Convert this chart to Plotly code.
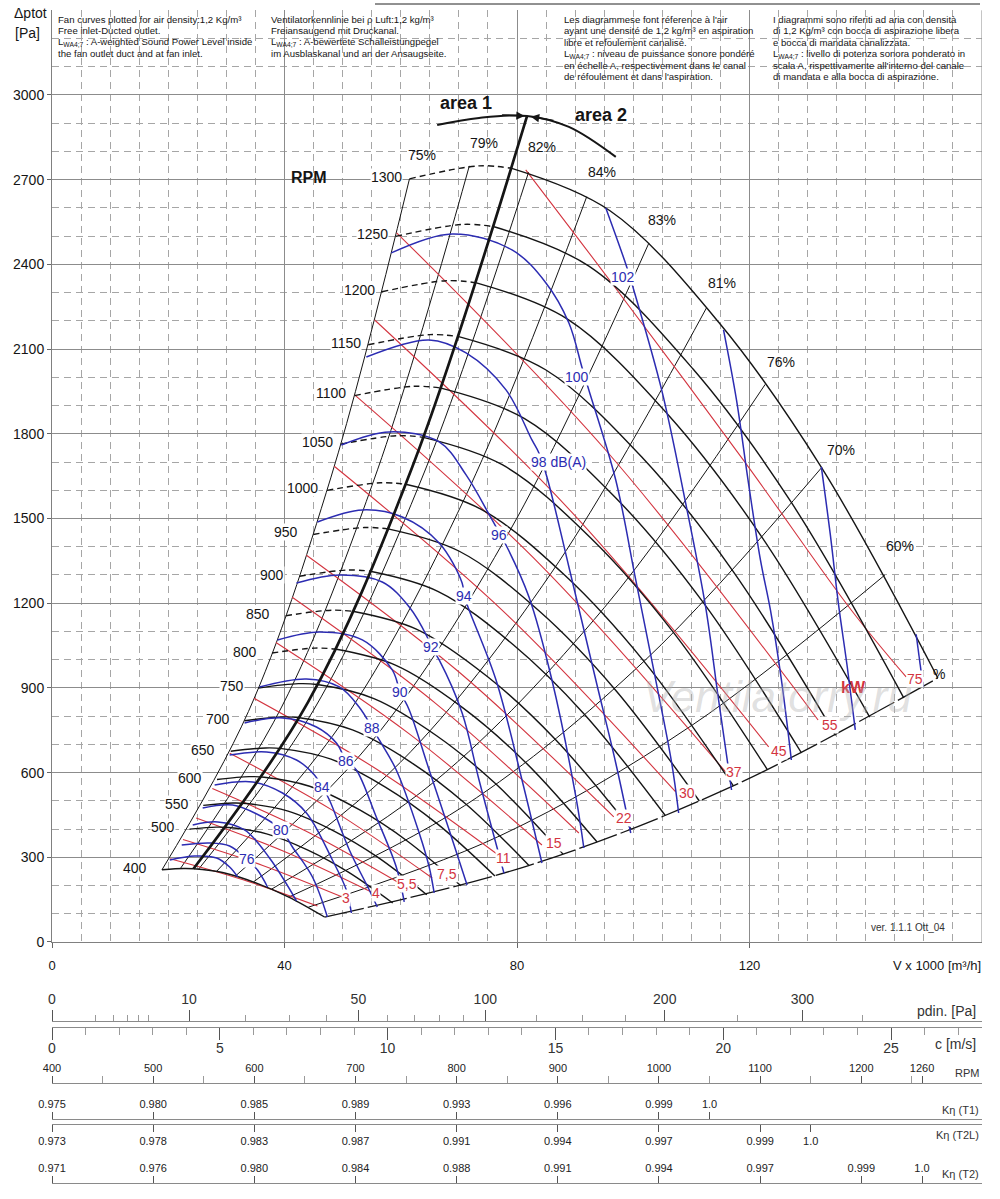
import math
import plotly.graph_objects as go

FONT = "Liberation Sans, Arial, Helvetica, sans-serif"
NARROW = "Liberation Sans Narrow, Arial Narrow, Liberation Sans, Arial, sans-serif"

# ---------------- fan speed curves (V x1000 m3/h , dp Pa) ----------------
RPM_VALUES = [400, 500, 550, 600, 650, 700, 750, 800, 850, 900, 950, 1000,
              1050, 1100, 1150, 1200, 1250, 1300]
RPM_CURVE_V = [
    [18.92, 22.62, 24.34, 29.54, 35.29, 40.74, 46.89],
    [23.65, 28.27, 30.42, 36.92, 44.12, 50.92, 58.62],
    [26.02, 31.10, 33.47, 40.62, 48.53, 56.02, 64.48],
    [28.39, 33.92, 36.51, 44.31, 52.94, 61.11, 70.34],
    [30.75, 36.75, 39.55, 48.00, 57.35, 66.20, 76.20],
    [33.12, 39.58, 42.59, 51.69, 61.76, 71.29, 82.06],
    [35.48, 42.40, 45.63, 55.38, 66.17, 76.38, 87.92],
    [37.85, 45.23, 48.68, 59.08, 70.58, 81.48, 93.78],
    [40.21, 48.06, 51.72, 62.77, 75.00, 86.57, 99.65],
    [42.58, 50.89, 54.76, 66.46, 79.41, 91.66, 105.51],
    [44.94, 53.71, 57.80, 70.15, 83.82, 96.75, 111.37],
    [47.31, 56.54, 60.85, 73.85, 88.23, 101.85, 117.23],
    [49.67, 59.37, 63.89, 77.54, 92.64, 106.94, 123.09],
    [52.04, 62.19, 66.93, 81.23, 97.05, 112.03, 128.95],
    [54.40, 65.02, 69.97, 84.92, 101.47, 117.12, 134.82],
    [56.77, 67.85, 73.02, 88.62, 105.88, 122.22, 140.68],
    [59.14, 70.67, 76.06, 92.31, 110.29, 127.31, 146.54],
    [61.50, 73.50, 79.10, 96.00, 114.70, 132.40, 152.40],
]
RPM_CURVE_P = [
    [255.9, 260.3, 259.4, 245.2, 207.8, 159.1, 88.5],
    [399.9, 406.7, 405.3, 383.1, 324.7, 248.5, 138.3],
    [483.8, 492.1, 490.4, 463.6, 392.9, 300.7, 167.4],
    [575.8, 585.6, 583.7, 551.7, 467.6, 357.9, 199.2],
    [675.8, 687.3, 685.0, 647.5, 548.8, 420.0, 233.8],
    [783.7, 797.1, 794.4, 751.0, 636.4, 487.1, 271.1],
    [899.7, 915.0, 912.0, 862.1, 730.6, 559.2, 311.2],
    [1023.6, 1041.0, 1037.6, 980.8, 831.2, 636.2, 354.1],
    [1155.6, 1175.2, 1171.4, 1107.3, 938.4, 718.2, 399.7],
    [1295.5, 1317.6, 1313.3, 1241.4, 1052.0, 805.2, 448.1],
    [1443.5, 1468.0, 1463.2, 1383.1, 1172.2, 897.2, 499.3],
    [1599.4, 1626.6, 1621.3, 1532.5, 1298.8, 994.1, 553.3],
    [1763.3, 1793.4, 1787.5, 1689.6, 1431.9, 1096.0, 610.0],
    [1935.3, 1968.2, 1961.8, 1854.4, 1571.6, 1202.8, 669.4],
    [2115.2, 2151.2, 2144.2, 2026.8, 1717.7, 1314.7, 731.7],
    [2303.1, 2342.3, 2334.7, 2206.9, 1870.3, 1431.5, 796.7],
    [2499.1, 2541.6, 2533.3, 2394.6, 2029.4, 1553.3, 864.5],
    [2703.0, 2749.0, 2740.0, 2590.0, 2195.0, 1680.0, 935.0],
]
RPM_LABEL_V = [14.25, 19.06, 21.46, 23.69, 25.92, 28.50, 30.90, 33.13, 35.36,
               37.77, 40.34, 43.09, 45.67, 48.07, 50.64, 52.88, 55.11, 57.51]
RPM_LABEL_P = [262.1, 407.4, 488.8, 580.9, 680.1, 789.9, 906.8, 1027.3, 1161.9,
               1300.0, 1452.4, 1608.2, 1771.2, 1944.7, 2121.9, 2309.6, 2508.0, 2709.9]
DASHED_FROM_RPM = 800

# ---------------- efficiency lines ----------------
EFF_LABELS = ["75%", "79%", "82%", "84%", "83%", "81%", "76%", "70%", "60%"]
EFF_LINE_V = [
    [18.92, 33.80, 48.00, 61.50],
    [22.09, 39.50, 56.00, 71.80],
    [25.23, 45.00, 64.00, 82.00],
    [28.31, 50.00, 71.00, 92.00],
    [31.60, 55.00, 79.00, 102.70],
    [34.65, 60.00, 86.00, 112.60],
    [37.75, 66.00, 95.00, 122.70],
    [40.74, 71.00, 102.00, 132.40],
    [44.09, 77.00, 110.00, 143.30],
]
EFF_LINE_P = [
    [255.8, 816.5, 1646.6, 2703.0],
    [260.2, 832.0, 1672.3, 2749.0],
    [258.2, 821.3, 1661.2, 2727.0],
    [250.0, 779.8, 1572.3, 2640.0],
    [234.4, 710.1, 1465.1, 2476.0],
    [212.7, 637.7, 1310.2, 2246.0],
    [186.9, 571.4, 1183.9, 1975.0],
    [159.1, 483.1, 997.1, 1680.0],
    [123.1, 375.4, 766.1, 1300.0],
]
EFF_LABEL_V = [63.69, 74.33, 84.29, 94.59, 104.89, 115.19, 125.49, 135.79, 145.92]
EFF_LABEL_P = [2787.8, 2830.3, 2816.2, 2727.6, 2557.6, 2334.4, 2054.5, 1742.8, 1402.8]

BOUNDARY_V = [46.89, 82.00, 117.00, 152.40]
BOUNDARY_P = [88.5, 270.7, 551.1, 935.0]
BOUNDARY_LABEL = "%"
BOUNDARY_LABEL_V, BOUNDARY_LABEL_P = 152.6, 950.0

AREA_LINE_V = [24.34, 44.00, 62.00, 81.70]
AREA_LINE_P = [259.4, 847.8, 1683.4, 2923.1]
AREA_ARC_V = [66.27, 73.48, 81.72, 88.93, 97.00]
AREA_ARC_P = [2894.1, 2918.9, 2926.0, 2887.0, 2780.7]

# ---------------- sound power lines dB(A) ----------------
DB_LEVELS = [74, 76, 78, 80, 82, 84, 86, 88, 90, 92, 94, 96, 98, 100, 102, 104, 106, 108]
DB_CURVE_V = [
    [20.26, 24.55, 28.33, 30.56, 31.93],
    [22.32, 27.12, 30.56, 33.48, 35.36, 37.08],
    [24.21, 28.50, 33.13, 37.42, 42.06],
    [25.92, 31.07, 36.22, 39.48, 41.37, 44.81, 47.38],
    [27.98, 34.51, 39.66, 43.78, 48.24, 50.64, 51.50],
    [30.56, 36.91, 42.06, 45.15, 46.52, 47.73, 51.16, 54.59, 55.96],
    [33.13, 39.66, 45.49, 48.93, 50.64, 52.36, 55.79, 59.23, 60.60],
    [35.71, 43.78, 49.44, 52.83, 55.11, 56.31, 59.23, 63.17, 64.89, 65.75],
    [38.80, 46.01, 53.39, 58.54, 59.91, 61.46, 64.89, 68.33, 71.41],
    [42.06, 49.44, 56.82, 61.46, 64.55, 65.24, 66.61, 70.56, 73.47, 77.77],
    [45.66, 53.39, 60.26, 66.61, 70.56, 70.90, 71.76, 76.39, 80.86, 84.29],
    [49.78, 58.02, 66.61, 71.24, 75.53, 78.28, 82.06, 86.01, 90.13, 91.50],
    [54.08, 64.89, 71.24, 78.11, 82.57, 83.77, 85.15, 88.93, 93.56, 96.99, 99.57],
    [58.37, 68.84, 79.14, 84.98, 88.93, 91.16, 92.36, 96.99, 100.43, 103.86, 106.61, 107.81],
    [95.28, 98.88, 100.09, 104.89, 109.01, 112.45, 114.68, 116.91],
    [115.53, 117.76, 119.82, 121.88, 123.60, 125.49, 127.20],
    [132.36, 133.91, 135.28, 136.82, 138.20],
    [148.67, 149.87],
]
DB_CURVE_P = [
    [290.5, 304.6, 297.6, 265.7, 231.0],
    [343.6, 350.7, 340.1, 294.0, 255.0, 194.8],
    [414.4, 425.1, 396.7, 297.6, 146.0],
    [474.7, 485.3, 442.8, 396.7, 336.5, 230.2, 88.6],
    [556.1, 566.8, 527.8, 457.0, 290.5, 184.2, 102.7],
    [662.4, 673.0, 644.7, 591.6, 549.1, 503.0, 325.9, 184.2, 124.0],
    [775.8, 793.5, 761.6, 704.9, 641.2, 609.3, 442.8, 265.7, 141.7],
    [903.3, 931.6, 903.3, 832.4, 758.1, 715.5, 609.3, 386.1, 265.7, 173.6],
    [1069.8, 1098.1, 1069.8, 963.5, 885.6, 821.8, 609.3, 396.7, 201.9],
    [1271.7, 1300.0, 1275.2, 1186.7, 1080.4, 1045.0, 998.9, 811.2, 573.9, 243.0],
    [1487.8, 1530.3, 1505.5, 1413.4, 1271.7, 1225.6, 1176.0, 928.1, 573.9, 279.8],
    [1760.5, 1806.6, 1771.2, 1654.3, 1501.9, 1399.2, 1222.1, 928.1, 513.6, 333.0],
    [2072.2, 2132.5, 2086.4, 1955.4, 1778.2, 1732.2, 1647.2, 1328.4, 928.1, 634.1, 386.1],
    [2440.6, 2508.0, 2451.3, 2334.4, 2192.7, 2036.8, 1955.4, 1636.5, 1282.3, 928.1, 634.1, 457.0],
    [2600.0, 2391.1, 2309.6, 1955.4, 1555.1, 1186.7, 857.2, 538.4],
    [2167.9, 1919.9, 1625.9, 1353.2, 1176.0, 928.1, 644.7],
    [1682.6, 1441.7, 1200.8, 974.1, 751.0],
    [1090.0, 904.0],
]
DB_LABELS = ["76", "80", "84", "86", "88", "90", "92", "94", "96", "98 dB(A)", "100", "102"]
DB_LABEL_V = [33.48, 39.48, 46.52, 50.64, 55.11, 59.91, 65.24, 70.90, 76.91, 87.21, 90.30, 98.20]
DB_LABEL_P = [294.0, 396.7, 549.1, 641.2, 758.1, 885.6, 1045.0, 1225.6, 1441.7, 1700.3, 2001.4, 2355.7]

# ---------------- motor power lines kW ----------------
KW_VALUES = [75, 55, 45, 37, 30, 22, 18.5, 15, 11, 7.5, 5.5, 4, 3, 2.2]
KW_CURVE_V = [
    [81.50, 96.30, 119.30, 137.50, 146.95],
    [59.29, 95.55, 131.80],
    [55.52, 89.41, 123.30],
    [52.07, 83.99, 115.90],
    [48.56, 77.93, 107.30],
    [43.78, 70.22, 96.65],
    [41.33, 65.99, 90.64],
    [38.53, 61.41, 84.29],
    [34.75, 56.00, 77.25],
    [30.58, 48.00, 65.41],
    [27.58, 43.66, 59.74],
    [24.80, 39.87, 54.94],
    [22.53, 36.25, 49.96],
    [20.32, 33.00, 45.67],
]
KW_CURVE_P = [
    [2735.0, 2334.0, 1697.0, 1176.0, 938.7],
    [2512.0, 1735.5, 786.4],
    [2203.0, 1522.5, 690.8],
    [1938.0, 1336.9, 602.2],
    [1685.0, 1165.9, 531.4],
    [1370.0, 952.8, 442.8],
    [1221.0, 845.3, 386.1],
    [1061.0, 738.2, 343.6],
    [863.0, 610.1, 301.1],
    [668.5, 469.7, 226.7],
    [543.5, 393.0, 209.0],
    [439.5, 321.4, 177.1],
    [362.8, 271.3, 159.4],
    [295.0, 219.6, 127.5],
]
KW_LABELS = ["75", "55", "45", "37", "30", "22", "15", "11", "7,5", "5,5", "4", "3"]
KW_LABEL_V = [148.5, 133.9, 125.0, 117.3, 109.2, 98.4, 86.4, 77.6, 68.0, 61.1, 55.8, 50.6]
KW_LABEL_P = [931.0, 768.7, 676.6, 602.2, 527.8, 439.3, 350.7, 297.6, 240.9, 205.5, 173.6, 155.9]

# ---------------- auxiliary scales ----------------
AIR_DENSITY = 1.2
C_MAX = 27.71            # outlet velocity at the right edge of the V axis
PDIN_MAJOR = [0, 10, 50, 100, 200, 300]
PDIN_MINOR = [1, 2, 3, 4, 5, 20, 30, 40, 60, 70, 80, 90, 125, 150, 175, 250, 350]
C_MAJOR = [0, 5, 10, 15, 20, 25]
C_MINOR = [1, 2, 3, 4, 6, 7, 8, 9, 11, 12, 13, 14, 16, 17, 18, 19, 21, 22, 23, 24, 26, 27]
RPM_RANGE = [400, 1319.3]
RPM_SCALE = [400, 500, 600, 700, 800, 900, 1000, 1100, 1200, 1260]
RPM_SCALE_MINOR = [450, 550, 650, 750, 850, 950, 1050, 1150, 1250]
KT1_RPM = [400, 500, 600, 700, 800, 900, 1000, 1050]
KT1_TEXT = ["0.975", "0.980", "0.985", "0.989", "0.993", "0.996", "0.999", "1.0"]
KT2L_RPM = [400, 500, 600, 700, 800, 900, 1000, 1100, 1150]
KT2L_TEXT = ["0.973", "0.978", "0.983", "0.987", "0.991", "0.994", "0.997", "0.999", "1.0"]
KT2_RPM = [400, 500, 600, 700, 800, 900, 1000, 1100, 1200, 1260]
KT2_TEXT = ["0.971", "0.976", "0.980", "0.984", "0.988", "0.991", "0.994", "0.997", "0.999", "1.0"]

HEADER_EN = ["Fan curves plotted for air density:1,2 Kg/m³", "Free inlet-Ducted outlet.",
             "L<sub>WA4;7</sub> : A-weighted Sound Power Level inside",
             "the fan outlet duct and at fan inlet."]
HEADER_DE = ["Ventilatorkennlinie bei ρ Luft:1,2 kg/m³", "Freiansaugend mit Druckanal.",
             "L<sub>WA4;7</sub> : A-bewertete Schalleistungpegel",
             "im Ausblaskanal und an der Ansaugseite."]
HEADER_FR = ["Les diagrammese font réference à l'air",
             "ayant une densité de 1,2 kg/m³ en aspiration", "libre et refoulement canalisé.",
             "L<sub>WA4;7</sub> : niveau de puissance sonore pondéré",
             "en échelle A, respectivement dans le canal", "de réfoulement et dans l'aspiration."]
HEADER_IT = ["I diagrammi sono riferiti ad aria con densità",
             "di 1,2 Kg/m³ con bocca di aspirazione libera", "e bocca di mandata canalizzata.",
             "L<sub>WA4;7</sub> : livello di potenza sonora ponderato in",
             "scala A, rispettivamente all'interno del canale",
             "di mandata e alla bocca di aspirazione."]

# ---------------- styling ----------------
W, H = 1000, 1199
X_DOM = [0.052, 0.982]
Y_DOM = [0.21435, 0.99141]
BLACK = "#151515"
RED = "#d3343f"
BLUE = "#2c2cb2"

fig = go.Figure()


def line(v, p, color, width, dash="solid"):
    fig.add_trace(go.Scatter(x=v, y=p, mode="lines", hoverinfo="skip", showlegend=False,
                             line=dict(color=color, width=width, dash=dash,
                                       shape="spline", smoothing=1.0)))


for v, p in zip(EFF_LINE_V, EFF_LINE_P):
    line(v, p, BLACK, 1.0)
line(BOUNDARY_V, BOUNDARY_P, BLACK, 1.3, "40px,4px")

for v, p in zip(KW_CURVE_V, KW_CURVE_P):
    line(v, p, RED, 1.1)

for rpm, v, p in zip(RPM_VALUES, RPM_CURVE_V, RPM_CURVE_P):
    if rpm >= DASHED_FROM_RPM:
        line(v[:3], p[:3], BLACK, 1.4, "6px,4px")
        line(v[2:], p[2:], BLACK, 1.4)
    else:
        line(v, p, BLACK, 1.4)

for v, p in zip(DB_CURVE_V, DB_CURVE_P):
    line(v, p, BLUE, 1.5)

line(AREA_LINE_V, AREA_LINE_P, BLACK, 2.7)
line(AREA_ARC_V, AREA_ARC_P, BLACK, 2.0)

ann = []


def text(x, y, s, color=BLACK, size=14, bg="white", xref="x", yref="y", **kw):
    d = dict(x=x, y=y, xref=xref, yref=yref, text=s, showarrow=False,
             xanchor="center", yanchor="middle",
             font=dict(family=FONT, size=size, color=color), borderpad=0)
    if bg:
        d["bgcolor"] = bg
    d.update(kw)
    ann.append(d)


for lab, v, p in zip(RPM_VALUES, RPM_LABEL_V, RPM_LABEL_P):
    text(v, p, str(lab))
for lab, v, p in zip(EFF_LABELS, EFF_LABEL_V, EFF_LABEL_P):
    text(v, p, lab, bg=None)
text(BOUNDARY_LABEL_V, BOUNDARY_LABEL_P, BOUNDARY_LABEL, bg=None)
for lab, v, p in zip(DB_LABELS, DB_LABEL_V, DB_LABEL_P):
    text(v, p, lab, color=BLUE)
for lab, v, p in zip(KW_LABELS, KW_LABEL_V, KW_LABEL_P):
    text(v, p, lab, color=RED)

text(44.29, 2706.3, "<b>RPM</b>", size=16, bg=None)
text(71.24, 2972.0, "<b>area 1</b>", size=18, bg=None)
text(94.42, 2929.5, "<b>area 2</b>", size=18, bg=None)
text(137.85, 899.8, "<b>kW</b>", color=RED, size=16, bg=None)
text(147.3, 49.6, "ver. 1.1.1 Ott_04", color="#333", size=10, bg=None)
text(124.9, 867.9, "<i>Ventilatorry.ru</i>", color="rgba(175,175,175,0.40)", size=44, bg=None)

# arrows at the top of the area boundary
ann.append(dict(x=81.3, y=2926, xref="x", yref="y", ax=-24, ay=-1, text="", showarrow=True,
                arrowhead=2, arrowsize=1.1, arrowwidth=1.5, arrowcolor=BLACK))
ann.append(dict(x=82.4, y=2923, xref="x", yref="y", ax=24, ay=4, text="", showarrow=True,
                arrowhead=2, arrowsize=1.1, arrowwidth=1.5, arrowcolor=BLACK))

# header notes, one annotation per line for exact line spacing
for xpx, block in [(57, HEADER_EN), (270, HEADER_DE), (563, HEADER_FR), (772, HEADER_IT)]:
    for i, row in enumerate(block):
        text(xpx / W, 1 - (19.5 + 11.4 * i) / H, row, size=9.6, bg=None, xref="paper",
             yref="paper", xanchor="left", yanchor="middle", align="left")

# axis titles
text(30 / W, 1 - 13 / H, "Δptot", size=14, bg=None, xref="paper", yref="paper")
text(27 / W, 1 - 33 / H, "[Pa]", size=14, bg=None, xref="paper", yref="paper")
text(982 / W, 1 - 965 / H, "V x 1000 [m³/h]", size=13, bg=None, xref="paper", yref="paper",
     xanchor="right")
text(977 / W, 1 - 1011 / H, "pdin. [Pa]", bg=None, xref="paper", yref="paper",
     xanchor="right", font=dict(family=FONT, size=14, color="#333"))
text(977 / W, 1 - 1044 / H, "c [m/s]", bg=None, xref="paper", yref="paper",
     xanchor="right", font=dict(family=FONT, size=14, color="#333"))
for ypx, s in [(1073, "RPM"), (1110, "Kη (T1)"), (1135, "Kη (T2L)"), (1174, "Kη (T2)")]:
    text(980 / W, 1 - ypx / H, s, bg=None, xref="paper", yref="paper", xanchor="right",
         font=dict(family=NARROW, size=11, color="#333"))

shapes = [
    dict(type="line", xref="x", yref="paper", x0=160, x1=160, y0=Y_DOM[0], y1=Y_DOM[1],
         line=dict(color="#8a8a8a", width=1)),
    dict(type="line", xref="paper", yref="paper", x0=0.375, x1=0.980, y0=1 - 4 / H, y1=1 - 4 / H,
         line=dict(color="#222", width=1)),
]


def scale_axis(rng, ypx, side, tickvals, ticktext, ticklen, font, minor_vals=None, minor_len=6,
               standoff=0):
    d = dict(overlaying="x", range=rng, anchor="free", position=1 - ypx / H, side=side,
             tickmode="array", tickvals=tickvals, ticktext=ticktext, ticks="outside",
             ticklen=ticklen, tickwidth=1.2, tickcolor="#555", showline=True, linecolor="#8a8a8a",
             linewidth=1.2, showgrid=False, zeroline=False, tickfont=font, fixedrange=True,
             automargin=False, ticklabelstandoff=standoff)
    if minor_vals:
        d["minor"] = dict(tickmode="array", tickvals=minor_vals, ticks="outside", ticklen=minor_len,
                          tickwidth=1, tickcolor="#9a9a9a", showgrid=False)
    return d


big = dict(family=FONT, size=14, color="#333")
small = dict(family=NARROW, size=11, color="#222")
pd_c = [math.sqrt(2 * p / AIR_DENSITY) for p in PDIN_MAJOR]
pd_c_minor = [math.sqrt(2 * p / AIR_DENSITY) for p in PDIN_MINOR]

axes = {
    "xaxis2": scale_axis([0, C_MAX], 1021, "top", pd_c, [str(p) for p in PDIN_MAJOR], 11, big,
                         pd_c_minor, 6),
    "xaxis3": scale_axis([0, C_MAX], 1027, "bottom", C_MAJOR, [str(c) for c in C_MAJOR], 12, big,
                         C_MINOR, 7, standoff=-4),
    "xaxis4": scale_axis(RPM_RANGE, 1083, "top", RPM_SCALE, [str(r) for r in RPM_SCALE], 7, small,
                         RPM_SCALE_MINOR, 7),
    "xaxis5": scale_axis(RPM_RANGE, 1119, "top", KT1_RPM, KT1_TEXT, 7, small),
    "xaxis6": scale_axis(RPM_RANGE, 1124, "bottom", KT2L_RPM, KT2L_TEXT, 7, small),
    "xaxis7": scale_axis(RPM_RANGE, 1183, "top", KT2_RPM, KT2_TEXT, 7, small),
}
for i, key in enumerate(axes, start=2):
    fig.add_trace(go.Scatter(x=[axes[key]["range"][0]], y=[-500], xaxis=f"x{i}", yaxis="y",
                             mode="markers", marker=dict(opacity=0), hoverinfo="skip",
                             showlegend=False))

fig.update_layout(
    width=W, height=H, margin=dict(l=0, r=0, t=0, b=0, autoexpand=False),
    plot_bgcolor="white", paper_bgcolor="white", showlegend=False,
    font=dict(family=FONT, color=BLACK),
    xaxis=dict(domain=X_DOM, range=[0, 160], tickmode="array", tickvals=[0, 40, 80, 120],
               ticks="outside", ticklen=5, tickcolor="#666", showline=True, linecolor="#808080",
               showgrid=True, gridcolor="#8c8c8c", gridwidth=1, zeroline=False,
               tickfont=dict(family=FONT, size=13, color=BLACK), ticklabelstandoff=6,
               minor=dict(tickmode="linear", tick0=0, dtick=5, showgrid=True, gridcolor="#a6a6a6",
                          griddash="7px,5px", gridwidth=1, ticks=""),
               fixedrange=True, automargin=False),
    yaxis=dict(domain=Y_DOM, range=[0, 3300], tickmode="array",
               tickvals=list(range(0, 3001, 300)), ticks="outside", ticklen=4, tickcolor="#666",
               showline=True, linecolor="#808080", showgrid=True, gridcolor="#8c8c8c",
               gridwidth=1, zeroline=False, tickfont=dict(family=FONT, size=14, color=BLACK),
               minor=dict(tickmode="linear", tick0=0, dtick=100, showgrid=True,
                          gridcolor="#a6a6a6", griddash="7px,5px", gridwidth=1, ticks=""),
               fixedrange=True, automargin=False),
    annotations=ann,
    shapes=shapes,
    **axes,
)

fig.write_html("out.html", config={"displayModeBar": False},
               post_script="document.body.style.margin='0';")
